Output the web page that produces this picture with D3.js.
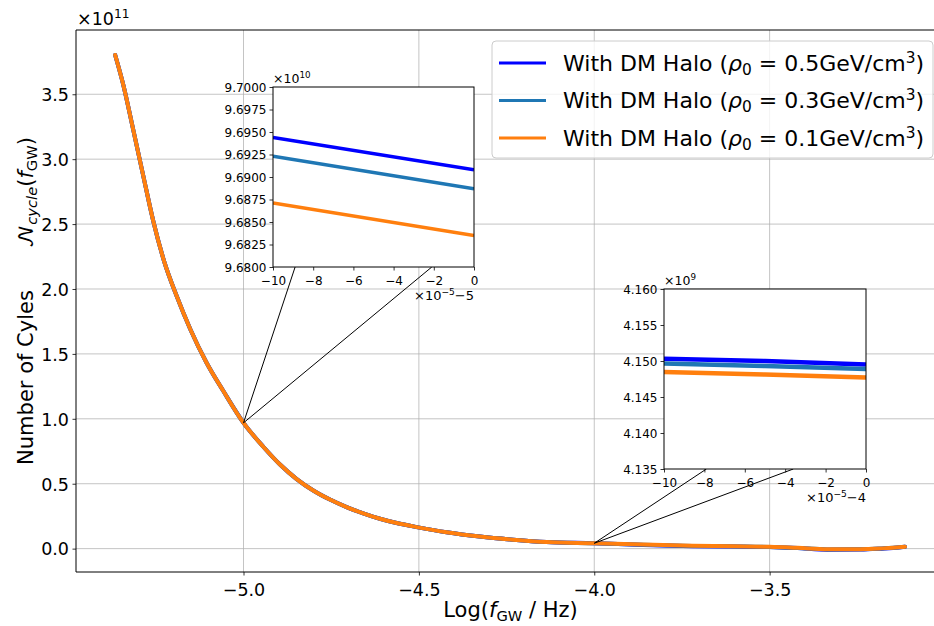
<!DOCTYPE html>
<html><head><meta charset="utf-8">
<script src="https://cdn.jsdelivr.net/npm/d3@7"></script>
<style>
body{margin:0;background:#fff}
svg{display:block}
text{font-family:"DejaVu Sans",sans-serif;fill:#000}
</style>
</head><body>
<svg id="chart" width="934" height="626"></svg>
<script>
// ---------------- DATA ----------------
const logF = [-5.366, -5.3425, -5.314, -5.2855, -5.257, -5.2265, -5.190, -5.152, -5.105, -5.0575, -5.0,
  -4.9436, -4.896, -4.8484, -4.8011, -4.7536, -4.706, -4.6587, -4.611, -4.5635, -4.502, -4.421, -4.3262,
  -4.2313, -4.1362, -4.0, -3.86, -3.72, -3.60, -3.50, -3.42, -3.336, -3.242, -3.18, -3.148, -3.114];
// Number of cycles, units of 1e11
const cyclesRho05 = [3.803, 3.570, 3.222, 2.868, 2.520, 2.215, 1.942, 1.692, 1.430, 1.214, 0.9693,
  0.785, 0.648, 0.536, 0.448, 0.378, 0.320, 0.272, 0.230, 0.197, 0.164, 0.126, 0.093,
  0.069, 0.051, 0.0415, 0.028, 0.019, 0.016, 0.012, 0.004, -0.008, -0.007, 0.000, 0.005, 0.014];
const cyclesRho03 = [3.803, 3.570, 3.222, 2.868, 2.520, 2.215, 1.942, 1.692, 1.430, 1.214, 0.9690,
  0.785, 0.648, 0.536, 0.448, 0.378, 0.320, 0.272, 0.230, 0.197, 0.164, 0.126, 0.093,
  0.069, 0.051, 0.0415, 0.030, 0.021, 0.017, 0.013, 0.005, -0.006, -0.005, 0.001, 0.006, 0.014];
const cyclesRho01 = [3.803, 3.570, 3.222, 2.868, 2.520, 2.215, 1.942, 1.692, 1.430, 1.214, 0.9685,
  0.785, 0.648, 0.536, 0.448, 0.378, 0.320, 0.272, 0.230, 0.197, 0.164, 0.126, 0.093,
  0.069, 0.051, 0.0415, 0.031, 0.023, 0.018, 0.014, 0.006, -0.004, -0.004, 0.002, 0.007, 0.014];
const seriesLabels = ["0.5", "0.3", "0.1"];
const seriesColors = ["#0000ff", "#1f77b4", "#ff7f0e"];
const xTicks = [-5.0, -4.5, -4.0, -3.5];
const xTickLabels = ["\u22125.0", "\u22124.5", "\u22124.0", "\u22123.5"];
const yTicks = [0, 0.5, 1.0, 1.5, 2.0, 2.5, 3.0, 3.5];
const yTickLabels = ["0.0", "0.5", "1.0", "1.5", "2.0", "2.5", "3.0", "3.5"];

// zoom targets (data coords of main plot)
const zoomTargets = [{x: -5.0, y: 0.9690}, {x: -4.0, y: 0.0415}];

// inset 1 : x in units of 1e-5 with offset -5, y in 1e10
const inset1T = [-10, 0];
const inset1Rho05 = [9.6944, 9.6908];
const inset1Rho03 = [9.6923, 9.6887];
const inset1Rho01 = [9.6871, 9.6835];
const inset1YTicks = [9.6800, 9.6825, 9.6850, 9.6875, 9.6900, 9.6925, 9.6950, 9.6975, 9.7000];
const insetXTicks = [-10, -8, -6, -4, -2, 0];
const insetXTickLabels = ["\u221210", "\u22128", "\u22126", "\u22124", "\u22122", "0"];

// inset 2 : x in units of 1e-5 with offset -4, y in 1e9
const inset2T = [-10, -5, 0];
const inset2Rho05 = [4.15032, 4.15000, 4.14950];
const inset2Rho03 = [4.14965, 4.14930, 4.14888];
const inset2Rho01 = [4.14847, 4.14812, 4.14772];
const inset2YTicks = [4.135, 4.140, 4.145, 4.150, 4.155, 4.160];

// ---------------- LAYOUT ----------------
const svg = d3.select("#chart");
const M = {left: 76, top: 30, right: 945, bottom: 572};
const x = d3.scaleLinear().domain([-5.4776, -3.0]).range([M.left, M.right]);
const y = d3.scaleLinear().domain([-0.18, 3.995]).range([M.bottom, M.top]);

const defs = svg.append("defs");
defs.append("clipPath").attr("id", "mainclip").append("rect")
  .attr("x", M.left).attr("y", M.top).attr("width", M.right - M.left).attr("height", M.bottom - M.top);

function mtext(sel, parts, fs) {
  parts.forEach(p => {
    const ts = sel.append("tspan").text(p.t);
    if (p.i) ts.attr("font-style", "italic");
    if (p.f) ts.attr("font-family", p.f);
    if (p.sub) ts.attr("font-size", (fs * 0.7) + "px").attr("baseline-shift", (-fs * 0.2) + "px");
    if (p.sup) ts.attr("font-size", (fs * 0.7) + "px").attr("baseline-shift", (fs * 0.38) + "px");
  });
}

// grid
const grid = svg.append("g").attr("stroke", "#b0b0b0").attr("stroke-opacity", 0.75).attr("stroke-width", 1);
xTicks.forEach(t => grid.append("line").attr("x1", x(t)).attr("x2", x(t)).attr("y1", M.top).attr("y2", M.bottom));
yTicks.forEach(t => grid.append("line").attr("y1", y(t)).attr("y2", y(t)).attr("x1", M.left).attr("x2", M.right));

// main lines
const seriesMain = [cyclesRho05, cyclesRho03, cyclesRho01];
const line = d3.line().x(d => x(d[0])).y(d => y(d[1])).curve(d3.curveMonotoneX);
const gLines = svg.append("g").attr("clip-path", "url(#mainclip)");
seriesMain.forEach((vals, i) => {
  gLines.append("path").datum(logF.map((f, k) => [f, vals[k]]))
    .attr("d", line).attr("fill", "none").attr("stroke", seriesColors[i])
    .attr("stroke-width", 4).attr("stroke-linejoin", "round").attr("stroke-linecap", "round");
});

// axes (main)
const ax = svg.append("g").attr("transform", `translate(0,${M.bottom})`)
  .call(d3.axisBottom(x).tickValues(xTicks).tickFormat((d, i) => xTickLabels[i]).tickSizeOuter(0).tickSize(3.5).tickPadding(3.5));
const ay = svg.append("g").attr("transform", `translate(${M.left},0)`)
  .call(d3.axisLeft(y).tickValues(yTicks).tickFormat((d, i) => yTickLabels[i]).tickSizeOuter(0).tickSize(3.5).tickPadding(3.5));
[ax, ay].forEach(a => {
  a.select(".domain").remove();
  a.selectAll(".tick line").attr("stroke", "#000").attr("stroke-width", 0.8);
  a.selectAll(".tick text").attr("font-size", "17.5px").attr("font-family", "DejaVu Sans").attr("fill", "#000");
});
ay.selectAll(".tick text").attr("dy", "0.36em");
ax.selectAll(".tick text").attr("dy", "0.95em");
// spines
const sp = svg.append("g").attr("stroke", "#000").attr("stroke-width", 1).attr("fill", "none");
sp.append("line").attr("x1", M.left).attr("x2", M.left).attr("y1", M.top).attr("y2", M.bottom);
sp.append("line").attr("x1", M.left).attr("x2", M.right).attr("y1", M.top).attr("y2", M.top);
sp.append("line").attr("x1", M.left).attr("x2", M.right).attr("y1", M.bottom).attr("y2", M.bottom);
sp.append("line").attr("x1", M.right).attr("x2", M.right).attr("y1", M.top).attr("y2", M.bottom);

// offset text x10^11
mtext(svg.append("text").attr("x", 77).attr("y", 25).attr("font-size", "17.5px"),
  [{t: "\u00d710"}, {t: "11", sup: true}], 17.5);

// axis labels
mtext(svg.append("text").attr("x", (M.left + M.right) / 2).attr("y", 617).attr("text-anchor", "middle").attr("font-size", "21px"),
  [{t: "Log("}, {t: "f", i: true}, {t: "GW", sub: true}, {t: " / Hz)"}], 21);
mtext(svg.append("text").attr("transform", `translate(33,${(M.top + M.bottom) / 2}) rotate(-90)`).attr("text-anchor", "middle").attr("font-size", "21px"),
  [{t: "Number of Cyles\u2003\u2003"}, {t: "\ud835\udca9", f: "'DejaVu Math TeX Gyre','STIX Two Math','Noto Sans Math','DejaVu Sans',serif"}, {t: "cycle", sub: true, i: true}, {t: "("}, {t: "f", i: true}, {t: "GW", sub: true}, {t: ")"}], 21);

// ---------------- INSETS ----------------
const insets = [
  {x0: 273, y0: 87, w: 201, h: 180, t: inset1T, series: [inset1Rho05, inset1Rho03, inset1Rho01],
   ydom: [9.68, 9.70], yticks: inset1YTicks, yfmt: d3.format(".4f"), exp: "10", off: "5",
   conn: [0.11, 0.79], target: zoomTargets[0], lw: 3.5},
  {x0: 664, y0: 289, w: 202, h: 180, t: inset2T, series: [inset2Rho05, inset2Rho03, inset2Rho01],
   ydom: [4.135, 4.160], yticks: inset2YTicks, yfmt: d3.format(".3f"), exp: "9", off: "4",
   conn: [0.21, 0.64], target: zoomTargets[1], lw: 4.5}
];

insets.forEach((ins, k) => {
  // connector lines
  const px = x(ins.target.x), py = y(ins.target.y);
  ins.conn.forEach(c => {
    svg.append("line").attr("x1", px).attr("y1", py)
      .attr("x2", ins.x0 + c * ins.w).attr("y2", ins.y0 + ins.h)
      .attr("stroke", "#000").attr("stroke-width", 1);
  });
  const g = svg.append("g");
  g.append("rect").attr("x", ins.x0).attr("y", ins.y0).attr("width", ins.w).attr("height", ins.h).attr("fill", "#fff");
  const ix = d3.scaleLinear().domain([-10, 0]).range([ins.x0, ins.x0 + ins.w]);
  const iy = d3.scaleLinear().domain(ins.ydom).range([ins.y0 + ins.h, ins.y0]);
  defs.append("clipPath").attr("id", "iclip" + k).append("rect")
    .attr("x", ins.x0).attr("y", ins.y0).attr("width", ins.w).attr("height", ins.h);
  const il = d3.line().x(d => ix(d[0])).y(d => iy(d[1]));
  const gl = g.append("g").attr("clip-path", `url(#iclip${k})`);
  ins.series.forEach((vals, i) => {
    gl.append("path").datum(ins.t.map((t, j) => [t, vals[j]])).attr("d", il)
      .attr("fill", "none").attr("stroke", seriesColors[i]).attr("stroke-width", ins.lw);
  });
  const iax = g.append("g").attr("transform", `translate(0,${ins.y0 + ins.h})`)
    .call(d3.axisBottom(ix).tickValues(insetXTicks).tickFormat((d, i) => insetXTickLabels[i]).tickSizeOuter(0).tickSize(3.5).tickPadding(3));
  const iay = g.append("g").attr("transform", `translate(${ins.x0},0)`)
    .call(d3.axisLeft(iy).tickValues(ins.yticks).tickFormat(ins.yfmt).tickSizeOuter(0).tickSize(3.5).tickPadding(3));
  [iax, iay].forEach(a => {
    a.select(".domain").remove();
    a.selectAll(".tick line").attr("stroke", "#000").attr("stroke-width", 0.8);
    a.selectAll(".tick text").attr("font-size", "12px").attr("font-family", "DejaVu Sans").attr("fill", "#000");
  });
  iay.selectAll(".tick text").attr("dy", "0.36em");
  iax.selectAll(".tick text").attr("dy", "0.95em");
  g.append("rect").attr("x", ins.x0).attr("y", ins.y0).attr("width", ins.w).attr("height", ins.h)
    .attr("fill", "none").attr("stroke", "#000").attr("stroke-width", 1);
  mtext(g.append("text").attr("x", ins.x0).attr("y", ins.y0 - 4).attr("font-size", "12.5px"),
    [{t: "\u00d710"}, {t: ins.exp, sup: true}], 12.5);
  mtext(g.append("text").attr("x", ins.x0 + ins.w).attr("y", ins.y0 + ins.h + 33).attr("text-anchor", "end").attr("font-size", "13px"),
    [{t: "\u00d710"}, {t: "\u22125", sup: true}, {t: "\u2212" + ins.off}], 13);
});

// ---------------- LEGEND ----------------
const lg = svg.append("g");
lg.append("rect").attr("x", 492).attr("y", 41).attr("width", 441).attr("height", 117).attr("rx", 4)
  .attr("fill", "#fff").attr("fill-opacity", 0.8).attr("stroke", "#cccccc").attr("stroke-width", 1);
seriesLabels.forEach((lab, i) => {
  const cy = 63 + i * 37.5;
  lg.append("line").attr("x1", 499).attr("x2", 546).attr("y1", cy).attr("y2", cy)
    .attr("stroke", seriesColors[i]).attr("stroke-width", 3);
  mtext(lg.append("text").attr("x", 563).attr("y", cy + 7.5).attr("font-size", "22px"),
    [{t: "With DM Halo ("}, {t: "\u03c1", i: true}, {t: "0", sub: true}, {t: " = 0." + lab.slice(2) + "GeV/cm"}, {t: "3", sup: true}, {t: ")"}], 22);
});
</script>
</body></html>
